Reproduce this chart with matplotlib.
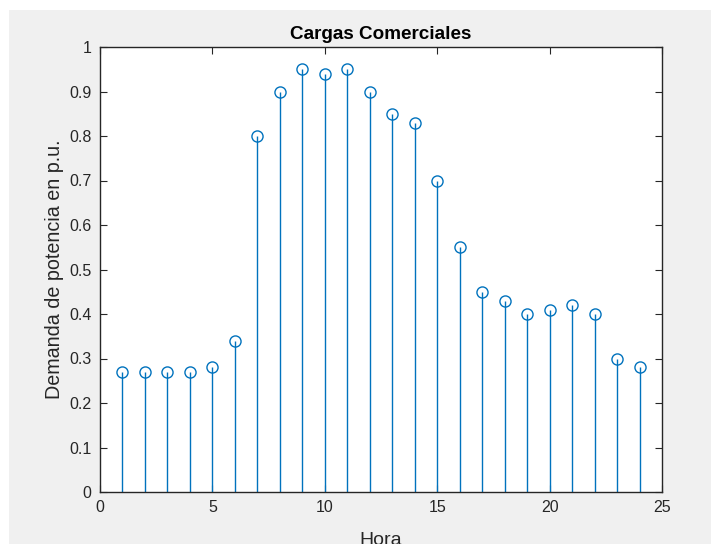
import matplotlib
matplotlib.use("Agg")
import matplotlib.pyplot as plt
from matplotlib.patches import Rectangle

hora = list(range(1, 25))
demanda = [0.27, 0.27, 0.27, 0.27, 0.28, 0.34, 0.80, 0.90, 0.95, 0.94, 0.95, 0.90,
           0.85, 0.83, 0.70, 0.55, 0.45, 0.43, 0.40, 0.41, 0.42, 0.40, 0.30, 0.28]
xticks = [0, 5, 10, 15, 20, 25]
yticks = [0, 0.1, 0.2, 0.3, 0.4, 0.5, 0.6, 0.7, 0.8, 0.9, 1]
ytick_labels = ["0", "0.1", "0.2", "0.3", "0.4", "0.5", "0.6", "0.7", "0.8", "0.9", "1"]

plt.rcParams['font.family'] = ['Liberation Sans', 'DejaVu Sans']

W, H = 711, 544
fig = plt.figure(figsize=(W / 100, H / 100), dpi=100, facecolor="white")
# grey window panel behind the axes
fig.patches.append(Rectangle((9 / W, 0), 1 - 9 / W, 1 - 10 / H, transform=fig.transFigure,
                             facecolor="#F0F0F0", edgecolor="none", zorder=-10))

ax = fig.add_axes([100 / W, 1 - 492 / H, (662 - 100) / W, (492 - 47) / H])
ax.set_facecolor("white")

blue = "#0072BD"
markerline, stemlines, baseline = ax.stem(hora, demanda, basefmt=" ")
plt.setp(stemlines, color=blue, linewidth=1.0)
plt.setp(markerline, color=blue, marker="o", markerfacecolor="none",
         markeredgecolor=blue, markersize=8, markeredgewidth=1.0)

ax.set_xlim(0, 25)
ax.set_ylim(0, 1)
ax.set_xticks(xticks)
ax.set_yticks(yticks)
ax.set_yticklabels(ytick_labels)

dark = "#262626"
for s in ax.spines.values():
    s.set_color(dark)
    s.set_linewidth(1.0)
ax.tick_params(direction="in", top=True, right=True, length=5, width=0.8,
               colors=dark, labelsize=11.5, labelcolor=dark)
ax.tick_params(axis="x", pad=6)
ax.tick_params(axis="y", pad=6)

ax.set_title("Cargas Comerciales", fontsize=13.6, fontweight="bold", color="black", pad=6)
ax.set_xlabel("Hora", fontsize=14, color=dark, labelpad=12)
ax.set_ylabel("Demanda de potencia en p.u.", fontsize=14.2, color=dark, labelpad=4)

fig.savefig("out.png", dpi=100, facecolor="white")
